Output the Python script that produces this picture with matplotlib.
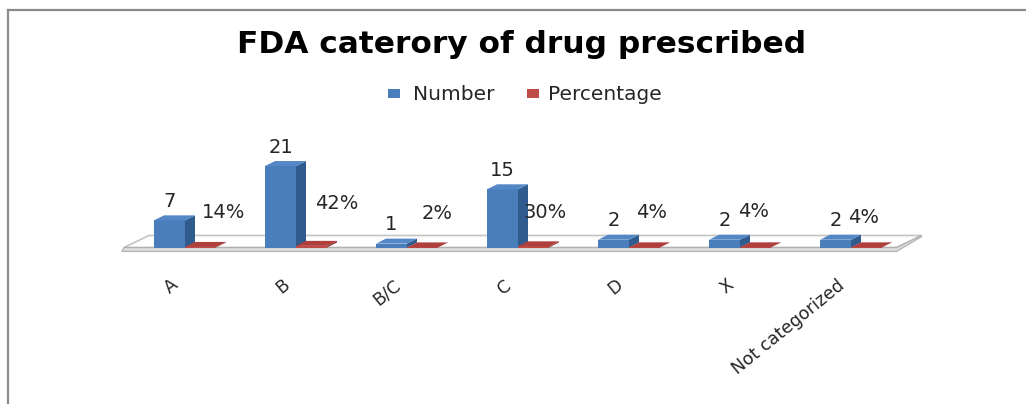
import matplotlib
matplotlib.use("Agg")
import matplotlib.pyplot as plt
from matplotlib.patches import Polygon, Rectangle
from matplotlib.lines import Line2D

# ---- data -------------------------------------------------------------
categories = ["A", "B", "B/C", "C", "D", "X", "Not categorized"]
number = [7, 21, 1, 15, 2, 2, 2]
percentage = [14, 42, 2, 30, 4, 4, 4]          # shown as "%"; plotted as fractions
series_names = ["Number", "Percentage"]
title = "FDA caterory of drug prescribed"

# offsets (pixels) of the percentage labels from the top of their bars
pct_label_dx = [23.5, 25.5, 14.5, 11.5, 7.5, -1.5, -2.5]
pct_label_dy = [34, 42, 34, 34, 35, 36, 30]

# ---- figure / pseudo-3D frame ----------------------------------------
W, H = 1026, 404
fig = plt.figure(figsize=(W / 100, H / 100), dpi=100)
ax = fig.add_axes([0, 0, 1, 1])
ax.axis("off")

X0, SX = 185.0, 111.0      # pixel of category 0, pixels per category
Y0, SY = 247.5, 3.88       # pixel row of value 0, pixels per unit
ax.set_xlim(-X0 / SX, (W - X0) / SX)
ax.set_ylim((Y0 - H) / SY, Y0 / SY)


def row(py):
    """pixel row (from top) -> data y"""
    return (Y0 - py) / SY


BLUE_FRONT, BLUE_SIDE, BLUE_TOP = "#4A7EBB", "#2F5B8E", "#5487C6"
RED_FRONT, RED_SIDE, RED_TOP = "#BE4B48", "#8E3431", "#AE3F3C"

bar_w = 31 / SX
depth_x = 10 / SX
depth_y = 5 / SY

# floor of the plot
n = len(categories)
fl_left, fl_right = -0.55, n - 1 + 0.41
fl_dx, fl_dy = 25 / SX, 12 / SY
band = row(248) - row(252)
floor = Polygon([(fl_left, 0), (fl_right, 0), (fl_right + fl_dx, fl_dy),
                 (fl_left + fl_dx, fl_dy)], closed=True,
                facecolor="white", edgecolor="#c4c4c4", lw=1.2, zorder=1)
ax.add_patch(floor)
ax.add_patch(Polygon([(fl_left - 0.02, -band), (fl_right, -band),
                      (fl_right + fl_dx, fl_dy - band * 0.3),
                      (fl_right + fl_dx, fl_dy), (fl_right, 0), (fl_left, 0)],
                     closed=True, facecolor="#dadada", edgecolor="#b0b0b0",
                     lw=0.8, zorder=1.5))

xs = list(range(n))
pct_frac = [p / 100 for p in percentage]

blue = ax.bar([x - bar_w for x in xs], number, width=bar_w, align="edge",
              color=BLUE_FRONT, zorder=3, label=series_names[0])
red = ax.bar(xs, pct_frac, width=bar_w, align="edge",
             color=RED_FRONT, zorder=4, label=series_names[1])


def extrude(rect, side_c, top_c, z):
    x, w, h = rect.get_x(), rect.get_width(), rect.get_height()
    side = Polygon([(x + w, 0), (x + w + depth_x, depth_y),
                    (x + w + depth_x, h + depth_y), (x + w, h)],
                   closed=True, facecolor=side_c, edgecolor="none", zorder=z)
    top = Polygon([(x, h), (x + w, h), (x + w + depth_x, h + depth_y),
                   (x + depth_x, h + depth_y)],
                  closed=True, facecolor=top_c, edgecolor="none", zorder=z)
    ax.add_patch(side)
    ax.add_patch(top)


for rect in blue:
    extrude(rect, BLUE_SIDE, BLUE_TOP, 3)
for rect in red:
    extrude(rect, RED_SIDE, RED_TOP, 4)

# ---- data labels ----------------------------------------------------
lab_font = dict(family="DejaVu Sans", fontsize=14, color="#262626")
for rect, v in zip(blue, number):
    ax.annotate(str(v), (rect.get_x() + rect.get_width() / 2, rect.get_height()),
                xytext=(0, 19), textcoords="offset pixels",
                ha="center", va="center", zorder=6, **lab_font)
for rect, p, dx, dy in zip(red, percentage, pct_label_dx, pct_label_dy):
    ax.annotate(f"{p}%", (rect.get_x() + rect.get_width() / 2, rect.get_height()),
                xytext=(dx, dy), textcoords="offset pixels",
                ha="center", va="center", zorder=6, **lab_font)

# ---- category labels ------------------------------------------------
for x, c in zip(xs, categories):
    ax.text(x - 0.08, row(283), c, rotation=39, rotation_mode="anchor",
            ha="right", va="center", family="DejaVu Sans", fontsize=12.5,
            color="#262626")

# ---- title and legend -----------------------------------------------
fig.text(522 / W, 1 - 53 / H, title, ha="center", va="baseline",
         family="DejaVu Sans", fontweight="bold", fontsize=22.5, color="black")

leg_font = dict(family="DejaVu Sans", fontsize=14.5, color="#262626",
                va="baseline", ha="left")
for (sx, tx), name, col in zip([(388, 413), (527, 548)], series_names,
                               [BLUE_FRONT, RED_FRONT]):
    fig.add_artist(Rectangle((sx / W, 1 - 98 / H), 12 / W, 9 / H,
                             transform=fig.transFigure, facecolor=col,
                             edgecolor="none"))
    fig.text(tx / W, 1 - 100 / H, name, **leg_font)

# ---- outer chart border (left and top edges visible) ------------------
fig.add_artist(Line2D([8 / W, 8 / W], [0, 1 - 10 / H], transform=fig.transFigure,
                      color="#8c8c8c", lw=1.6))
fig.add_artist(Line2D([8 / W, 1], [1 - 10 / H, 1 - 10 / H], transform=fig.transFigure,
                      color="#8c8c8c", lw=1.6))

fig.savefig("out.png", dpi=100, facecolor="white")
